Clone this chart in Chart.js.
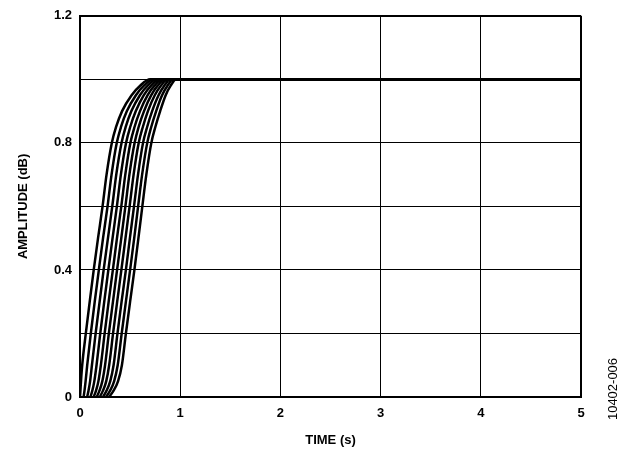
<!DOCTYPE html>
<html>
<head>
<meta charset="utf-8">
<script src="https://cdn.jsdelivr.net/npm/chart.js@4.4.1/dist/chart.umd.min.js"></script>
<style>
  html, body { margin: 0; padding: 0; background: #fff; }
  #wrap { width: 626px; height: 458px; position: relative; }
</style>
</head>
<body>
<div id="wrap"><canvas id="grafico"></canvas></div>
<script>
// amplitude levels the step responses pass through
const niveis = [0, 0.02, 0.05, 0.1, 0.2, 0.3, 0.4, 0.5, 0.6, 0.7, 0.8, 0.85, 0.9, 0.95, 0.98, 1.0];

// time (s) at which each curve reaches the levels above, left to right
const tempos = [
    [0.000, 0.004, 0.010, 0.022, 0.058, 0.097, 0.137, 0.180, 0.225, 0.265, 0.318, 0.360, 0.420, 0.515, 0.600, 0.700],
    [0.036, 0.045, 0.056, 0.072, 0.108, 0.147, 0.188, 0.230, 0.275, 0.315, 0.367, 0.409, 0.468, 0.558, 0.638, 0.733],
    [0.071, 0.085, 0.101, 0.119, 0.156, 0.196, 0.236, 0.279, 0.322, 0.362, 0.415, 0.456, 0.513, 0.598, 0.675, 0.764],
    [0.104, 0.123, 0.143, 0.165, 0.202, 0.242, 0.283, 0.325, 0.368, 0.408, 0.460, 0.501, 0.557, 0.637, 0.710, 0.794],
    [0.136, 0.160, 0.184, 0.208, 0.246, 0.286, 0.328, 0.369, 0.412, 0.452, 0.503, 0.544, 0.599, 0.675, 0.743, 0.822],
    [0.167, 0.194, 0.223, 0.250, 0.288, 0.329, 0.370, 0.412, 0.453, 0.493, 0.545, 0.585, 0.639, 0.711, 0.775, 0.850],
    [0.197, 0.229, 0.262, 0.291, 0.330, 0.371, 0.413, 0.454, 0.495, 0.535, 0.586, 0.627, 0.678, 0.746, 0.807, 0.877],
    [0.229, 0.265, 0.302, 0.335, 0.374, 0.415, 0.458, 0.498, 0.539, 0.579, 0.629, 0.670, 0.720, 0.784, 0.841, 0.905],
    [0.260, 0.300, 0.341, 0.376, 0.416, 0.458, 0.500, 0.541, 0.580, 0.620, 0.671, 0.711, 0.760, 0.819, 0.873, 0.933],
    [0.290, 0.335, 0.380, 0.418, 0.458, 0.500, 0.543, 0.583, 0.622, 0.662, 0.712, 0.752, 0.800, 0.855, 0.905, 0.960]
];

// all curves settle at 1.0 until the end of the time axis
const tempoFinal = 5;
const valorFinal = 1.0;

const ticksX = [0, 1, 2, 3, 4, 5];
const ticksYRotulo = [0, 0.4, 0.8, 1.2];

const fonte = 'Arial, "Liberation Sans", Helvetica, sans-serif';

const conjuntos = tempos.map(function (linha) {
    const pontos = linha.map(function (t, i) { return { x: t, y: niveis[i] }; });
    pontos.push({ x: tempoFinal, y: valorFinal });
    return {
        data: pontos,
        borderColor: '#000',
        borderWidth: 2.5,
        pointRadius: 0,
        fill: false,
        cubicInterpolationMode: 'monotone'
    };
});

const codigo = {
    id: 'codigo',
    afterDraw(chart) {
        const c = chart.ctx;
        c.save();
        c.translate(613, 389);
        c.rotate(-Math.PI / 2);
        c.font = '13px ' + fonte;
        c.fillStyle = '#000';
        c.textAlign = 'center';
        c.textBaseline = 'middle';
        c.fillText('10402-006', 0, 0);
        c.restore();
    }
};

const ctx = document.getElementById('grafico').getContext('2d');

new Chart(ctx, {
    type: 'line',
    data: { datasets: conjuntos },
    plugins: [codigo],
    options: {
        responsive: true,
        maintainAspectRatio: false,
        animation: false,
        layout: { padding: { left: 0, top: 13, right: 45, bottom: 0 } },
        plugins: {
            legend: { display: false },
            tooltip: { enabled: false }
        },
        scales: {
            x: {
                type: 'linear',
                min: 0,
                max: 5,
                afterBuildTicks: function (s) { s.ticks = ticksX.map(function (v) { return { value: v }; }); },
                afterFit: function (s) { s.height = 61; },
                grid: {
                    color: '#000',
                    lineWidth: function (c) { return c.tick && c.tick.value === 5 ? 2 : 1; },
                    drawTicks: false
                },
                border: { display: true, color: '#000', width: 2 },
                ticks: {
                    padding: 9,
                    color: '#000',
                    font: { family: fonte, size: 13, weight: 'bold' }
                },
                title: {
                    display: true,
                    text: 'TIME (s)',
                    color: '#000',
                    font: { family: fonte, size: 13, weight: 'bold' },
                    padding: { top: 0, bottom: 10 }
                }
            },
            y: {
                type: 'linear',
                min: 0,
                max: 1.2,
                ticks: {
                    stepSize: 0.2,
                    padding: 8,
                    color: '#000',
                    font: { family: fonte, size: 13, weight: 'bold' },
                    callback: function (v) {
                        const r = Math.round(v * 10) / 10;
                        return ticksYRotulo.indexOf(r) >= 0 ? String(r) : '';
                    }
                },
                afterFit: function (s) { s.width = 80; },
                grid: {
                    color: '#000',
                    lineWidth: function (c) { return c.tick && Math.round(c.tick.value * 10) === 12 ? 2 : 1; },
                    drawTicks: false
                },
                border: { display: true, color: '#000', width: 2 },
                title: {
                    display: true,
                    text: 'AMPLITUDE (dB)',
                    color: '#000',
                    font: { family: fonte, size: 13, weight: 'bold' },
                    padding: { top: 16, bottom: 0 }
                }
            }
        }
    }
});
</script>
</body>
</html>
